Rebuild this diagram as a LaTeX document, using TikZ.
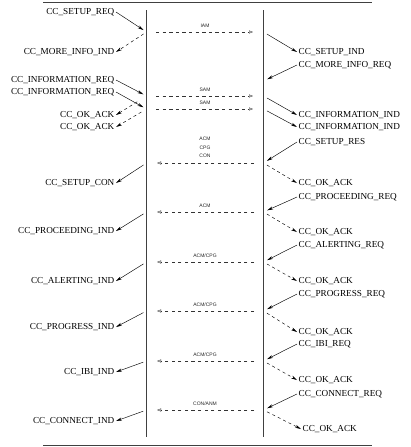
\documentclass[tikz,border=0pt]{standalone}
\usepackage{fontspec}
\setmainfont{Liberation Serif}
\newfontfamily\msgfont{Liberation Sans}
\usetikzlibrary{arrows.meta, positioning, calc}

\begin{document}
\begin{tikzpicture}[
    x=1pt, y=-1pt,
    prim/.style={font=\fontsize{9.2}{10}\selectfont, inner sep=1.5pt},
    lprim/.style={prim, anchor=east},
    rprim/.style={prim, anchor=west},
    msg/.style={font=\msgfont\fontsize{5}{8.6}\selectfont, align=center, inner sep=1pt, text=black!85},
    req/.style={-{Stealth[length=6pt, width=3pt]}, line width=0.45pt},
    ack/.style={req, dash pattern=on 3pt off 3pt},
    sig/.style={-{Triangle[open, length=4pt, width=3pt]}, line width=0.35pt, black!80, dash pattern=on 3.3pt off 3.3pt, shorten <=9.5pt, shorten >=10.5pt},
    rule/.style={line width=0.6pt, black!75}
]
\useasboundingbox (0,0) rectangle (410,447);

% Frame and exchange lines
\draw[rule] (43,2) -- (372,2);
\draw[rule] (43,445) -- (372,445);
\draw[rule] (146.5,10) coordinate (ltop) -- (146.5,437) coordinate (lbot);
\draw[rule] (263.5,10) coordinate (rtop) -- (263.5,437) coordinate (rbot);

% Events on the left line
\coordinate (la) at (146.5,32);
\coordinate (lb) at (146.5,96);
\coordinate (lc) at (146.5,109);
\coordinate (ld) at (146.5,163);
\coordinate (le) at (146.5,212);
\coordinate (lf) at (146.5,262);
\coordinate (lg) at (146.5,311);
\coordinate (lh) at (146.5,361);
\coordinate (li) at (146.5,410);

% Events on the right line
\coordinate (ra) at (263.5,32);
\coordinate (rb) at (263.5,81);
\coordinate (rc) at (263.5,96);
\coordinate (rd) at (263.5,109);
\coordinate (re) at (263.5,163);
\coordinate (rf) at (263.5,212);
\coordinate (rg) at (263.5,262);
\coordinate (rh) at (263.5,311);
\coordinate (ri) at (263.5,361);
\coordinate (rj) at (263.5,410);

% Left primitives
\node[lprim] (setupreq) at (116,12) {CC\_SETUP\_REQ};
\node[lprim] (moreinfoind) at (116,52) {CC\_MORE\_INFO\_IND};
\node[lprim] (inforeqa) at (116,80) {CC\_INFORMATION\_REQ};
\node[lprim] (inforeqb) at (116,92) {CC\_INFORMATION\_REQ};
\node[lprim] (okacka) at (116,115) {CC\_OK\_ACK};
\node[lprim] (okackb) at (116,127) {CC\_OK\_ACK};
\node[lprim] (setupcon) at (116,183) {CC\_SETUP\_CON};
\node[lprim] (procind) at (116,231) {CC\_PROCEEDING\_IND};
\node[lprim] (alertind) at (116,281) {CC\_ALERTING\_IND};
\node[lprim] (progind) at (116,327) {CC\_PROGRESS\_IND};
\node[lprim] (ibiind) at (116,372) {CC\_IBI\_IND};
\node[lprim] (connind) at (116,421) {CC\_CONNECT\_IND};

% Right primitives
\node[rprim] (setupind) at (297,52) {CC\_SETUP\_IND};
\node[rprim] (moreinforeq) at (297,65) {CC\_MORE\_INFO\_REQ};
\node[rprim] (infoinda) at (297,115) {CC\_INFORMATION\_IND};
\node[rprim] (infoindb) at (297,127) {CC\_INFORMATION\_IND};
\node[rprim] (setupres) at (297,142) {CC\_SETUP\_RES};
\node[rprim] (okackc) at (297,183) {CC\_OK\_ACK};
\node[rprim] (procreq) at (297,197) {CC\_PROCEEDING\_REQ};
\node[rprim] (okackd) at (297,232) {CC\_OK\_ACK};
\node[rprim] (alertreq) at (297,245) {CC\_ALERTING\_REQ};
\node[rprim] (okacke) at (297,281) {CC\_OK\_ACK};
\node[rprim] (progreq) at (297,294) {CC\_PROGRESS\_REQ};
\node[rprim] (okackf) at (297,332) {CC\_OK\_ACK};
\node[rprim] (ibireq) at (297,344) {CC\_IBI\_REQ};
\node[rprim] (okackg) at (297,380) {CC\_OK\_ACK};
\node[rprim] (connreq) at (297,394) {CC\_CONNECT\_REQ};
\node[rprim] (okackh) at (301,429) {CC\_OK\_ACK};

% Left side arrows
\draw[req, shorten >=3.5pt] (setupreq.east) -- (la);
\draw[ack, shorten <=3.5pt] (la) -- (moreinfoind.east);
\draw[req, shorten >=3.5pt] (inforeqa.east) -- (lb);
\draw[req, shorten >=3.5pt] (inforeqb.east) -- (lc);
\draw[ack, shorten <=11pt] (lb) -- (okacka.east);
\draw[ack, shorten <=6pt] (lc) -- (okackb.east);
\draw[req, shorten <=3.5pt] (ld) -- (setupcon.east);
\draw[req, shorten <=3.5pt] (le) -- (procind.east);
\draw[req, shorten <=3.5pt] (lf) -- (alertind.east);
\draw[req, shorten <=3.5pt] (lg) -- (progind.east);
\draw[req, shorten <=3.5pt] (lh) -- (ibiind.east);
\draw[req, shorten <=3.5pt] (li) -- (connind.east);

% Right side arrows
\draw[req, shorten <=4pt] (ra) -- (setupind.west);
\draw[req, shorten >=4pt] (moreinforeq.west) -- (rb);
\draw[req, shorten <=4pt] (rc) -- (infoinda.west);
\draw[req, shorten <=4pt] (rd) -- (infoindb.west);
\draw[req, shorten >=4pt] (setupres.west) -- (re);
\draw[ack, shorten <=4pt] (re) -- (okackc.west);
\draw[req, shorten >=4pt] (procreq.west) -- (rf);
\draw[ack, shorten <=4pt] (rf) -- (okackd.west);
\draw[req, shorten >=4pt] (alertreq.west) -- (rg);
\draw[ack, shorten <=4pt] (rg) -- (okacke.west);
\draw[req, shorten >=4pt] (progreq.west) -- (rh);
\draw[ack, shorten <=4pt] (rh) -- (okackf.west);
\draw[req, shorten >=4pt] (ibireq.west) -- (ri);
\draw[ack, shorten <=4pt] (ri) -- (okackg.west);
\draw[req, shorten >=4pt] (connreq.west) -- (rj);
\draw[ack, shorten <=4pt] (rj) -- (okackh.west);

% Signalling messages
\draw[sig] (la) -- node[msg, above=3pt] (iam) {IAM} (ra);
\draw[sig] (lb) -- node[msg, above=3pt] (sama) {SAM} (rc);
\draw[sig] (lc) -- node[msg, above=3pt] (samb) {SAM} (rd);
\draw[sig] (re) -- node[msg, above=4pt] (acmcon) {ACM\\CPG\\CON} (ld);
\draw[sig] (rf) -- node[msg, above=3pt] (acm) {ACM} (le);
\draw[sig] (rg) -- node[msg, above=3pt] (cpga) {ACM/CPG} (lf);
\draw[sig] (rh) -- node[msg, above=3pt] (cpgb) {ACM/CPG} (lg);
\draw[sig] (ri) -- node[msg, above=3pt] (cpgc) {ACM/CPG} (lh);
\draw[sig] (rj) -- node[msg, above=3pt] (conanm) {CON/ANM} (li);

\end{tikzpicture}
\end{document}
